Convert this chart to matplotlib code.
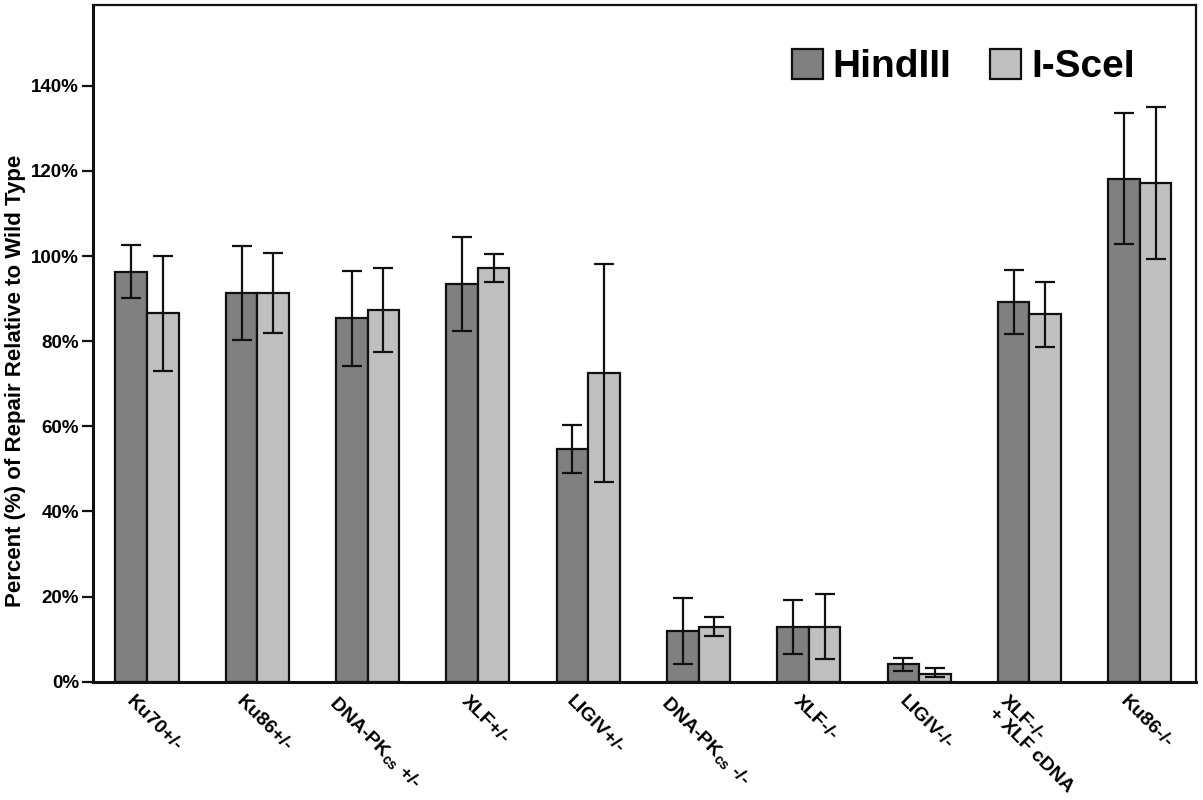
import matplotlib
matplotlib.use("Agg")
import matplotlib.pyplot as plt
import matplotlib.transforms as mtransforms
from matplotlib.patches import Patch
import numpy as np

plt.rcParams['font.family'] = ['Liberation Sans', 'DejaVu Sans']
plt.rcParams['font.weight'] = 'bold'
plt.rcParams['mathtext.fontset'] = 'custom'
plt.rcParams['mathtext.rm'] = 'Liberation Sans:bold'
plt.rcParams['mathtext.bf'] = 'Liberation Sans:bold'
plt.rcParams['mathtext.it'] = 'Liberation Sans:bold'
plt.rcParams['mathtext.sf'] = 'Liberation Sans:bold'
plt.rcParams['mathtext.default'] = 'bf'

# ---- data ----
categories = ["Ku70+/-", "Ku86+/-", "DNA-PK$_{cs}$ +/-", "XLF+/-", "LIGIV+/-",
              "DNA-PK$_{cs}$ -/-", "XLF-/-", "LIGIV-/-",
              "XLF-/-\n+ XLF cDNA", "Ku86-/-"]
series_names = ["HindIII", "I-SceI"]
hind = [96.2, 91.3, 85.4, 93.4, 54.7, 11.9, 12.9, 4.1, 89.3, 118.1]
hind_lo = [90.1, 80.3, 74.1, 82.3, 49.0, 4.2, 6.6, 2.5, 81.8, 102.8]
hind_hi = [102.6, 102.4, 96.5, 104.4, 60.2, 19.6, 19.3, 5.5, 96.8, 133.6]
scei = [86.6, 91.3, 87.4, 97.3, 72.5, 12.9, 12.9, 1.9, 86.5, 117.2]
scei_lo = [73.0, 81.9, 77.5, 94.0, 46.8, 10.7, 5.4, 1.0, 78.7, 99.3]
scei_hi = [99.9, 100.8, 97.3, 100.5, 98.1, 15.1, 20.5, 3.2, 93.9, 135.0]
yticks = [0, 20, 40, 60, 80, 100, 120, 140]
ytick_labels = ["0%", "20%", "40%", "60%", "80%", "100%", "120%", "140%"]

dark = "#808080"
light = "#c0c0c0"

fig = plt.figure(figsize=(12.03, 8.0), dpi=100)
ax = fig.add_axes([0.0773, 0.1479, 0.9169, 0.8459])

x = np.arange(len(categories))
w = 0.286
h_arr = np.array(hind)
s_arr = np.array(scei)
ax.bar(x - w / 2, h_arr, w, color=dark, edgecolor="#111111", linewidth=1.6, zorder=2)
ax.bar(x + w / 2, s_arr, w, color=light, edgecolor="#111111", linewidth=1.6, zorder=2)
ax.errorbar(x - w / 2, h_arr, yerr=[h_arr - np.array(hind_lo), np.array(hind_hi) - h_arr],
            fmt="none", ecolor="#111111", elinewidth=1.6, capsize=7, capthick=1.6, zorder=3)
ax.errorbar(x + w / 2, s_arr, yerr=[s_arr - np.array(scei_lo), np.array(scei_hi) - s_arr],
            fmt="none", ecolor="#111111", elinewidth=1.6, capsize=7, capthick=1.6, zorder=3)

ax.set_xlim(-0.49, 9.51)
ax.set_ylim(0, 159)
ax.set_yticks(yticks)
ax.set_yticklabels(ytick_labels, fontsize=13.5, fontweight="bold")
ax.tick_params(axis="y", length=8, width=1.6, pad=2, color="#111111")
ax.set_xticks(x)
ax.set_xticklabels(categories, rotation=-45, ha="center", va="top",
                   fontsize=14, fontweight="bold", linespacing=1.0)
ax.tick_params(axis="x", length=0, pad=8)
offset = mtransforms.ScaledTranslation(5 / 72, 0, fig.dpi_scale_trans)
for lab in ax.get_xticklabels():
    lab.set_transform(lab.get_transform() + offset)
    lab.set_multialignment("left")

for side in ["left", "bottom"]:
    ax.spines[side].set_linewidth(2.2)
    ax.spines[side].set_color("#111111")
for side in ["top", "right"]:
    ax.spines[side].set_linewidth(1.6)
    ax.spines[side].set_color("#111111")

ax.set_ylabel("Percent (%) of Repair Relative to Wild Type", fontsize=16,
              fontweight="bold")
ax.yaxis.set_label_coords(-0.061, 0.444)

handles = [Patch(facecolor=dark, edgecolor="#111111", linewidth=1.6),
           Patch(facecolor=light, edgecolor="#111111", linewidth=1.6)]
ax.legend(handles, series_names, ncol=2, loc="center", bbox_to_anchor=(0.789, 0.908),
          frameon=False, prop={"size": 28, "weight": "bold"},
          handlelength=0.8, handleheight=0.8, handletextpad=0.25, columnspacing=1.0)

fig.savefig("out.png", dpi=100)
